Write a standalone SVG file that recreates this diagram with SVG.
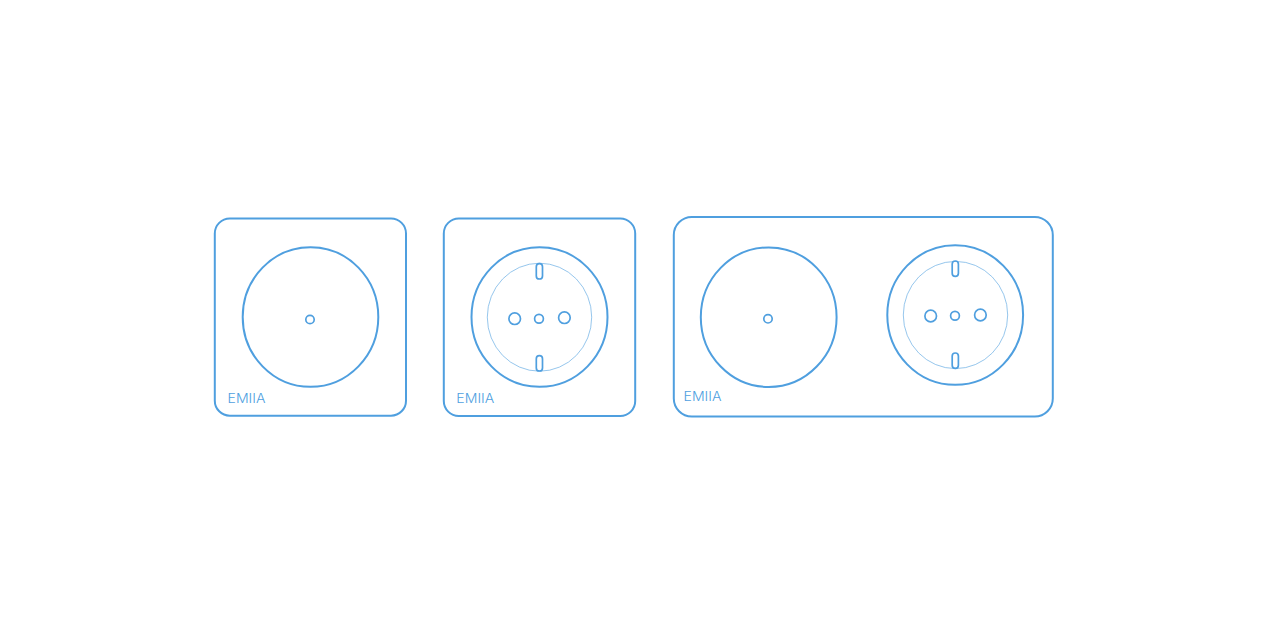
<svg xmlns="http://www.w3.org/2000/svg" width="1280" height="640" viewBox="0 0 1280 640">
<style>
.s{fill:none;stroke:#4f9fdf;stroke-width:2}
.t{fill:none;stroke:#4f9fdf;stroke-width:.6}
.b{fill:none;stroke:#4f9fdf;stroke-width:1.7}
.l{font-family:"Inter","Liberation Sans",sans-serif;font-weight:300;font-size:12.5px;fill:#4f9fdf}
</style>
<rect width="1280" height="640" fill="#fff"/>
<g id="plate-1">
<rect class="s" x="214.8" y="218.5" width="191.2" height="197.2" rx="15"/>
<ellipse class="s" cx="310.5" cy="317" rx="67.8" ry="69.8"/>
<circle class="b" cx="310" cy="319.5" r="4.2"/>
<text class="l" x="227.5" y="403.3" textLength="38" lengthAdjust="spacingAndGlyphs">EMIIA</text>
</g>
<g id="plate-2">
<rect class="s" x="443.8" y="218.5" width="191.4" height="197.5" rx="15"/>
<ellipse class="s" cx="539.5" cy="317" rx="68" ry="69.8"/>
<ellipse class="t" cx="539.5" cy="317.2" rx="52.2" ry="54"/>
<rect class="b" x="536.3" y="263.6" width="6.2" height="15.4" rx="3.1"/>
<rect class="b" x="536.3" y="355.6" width="6.2" height="15.4" rx="3.1"/>
<circle class="b" cx="514.7" cy="318.7" r="5.8"/>
<circle class="b" cx="539" cy="318.7" r="4.4"/>
<circle class="b" cx="564.4" cy="317.7" r="5.8"/>
<text class="l" x="456.3" y="403.3" textLength="38" lengthAdjust="spacingAndGlyphs">EMIIA</text>
</g>
<g id="plate-3">
<rect class="s" x="673.8" y="217" width="379" height="199.6" rx="18"/>
<ellipse class="s" cx="768.7" cy="317.2" rx="67.9" ry="69.8"/>
<circle class="b" cx="768" cy="318.8" r="4.2"/>
<ellipse class="s" cx="955.2" cy="315" rx="67.9" ry="69.8"/>
<ellipse class="t" cx="955.5" cy="315" rx="52.2" ry="53.6"/>
<rect class="b" x="952.2" y="261" width="6.2" height="15.4" rx="3.1"/>
<rect class="b" x="952.2" y="353" width="6.2" height="15.4" rx="3.1"/>
<circle class="b" cx="930.7" cy="316" r="5.8"/>
<circle class="b" cx="955" cy="315.8" r="4.4"/>
<circle class="b" cx="980.4" cy="315" r="5.8"/>
<text class="l" x="683.5" y="401.3" textLength="38" lengthAdjust="spacingAndGlyphs">EMIIA</text>
</g>
<g id="connectors"></g>
</svg>
